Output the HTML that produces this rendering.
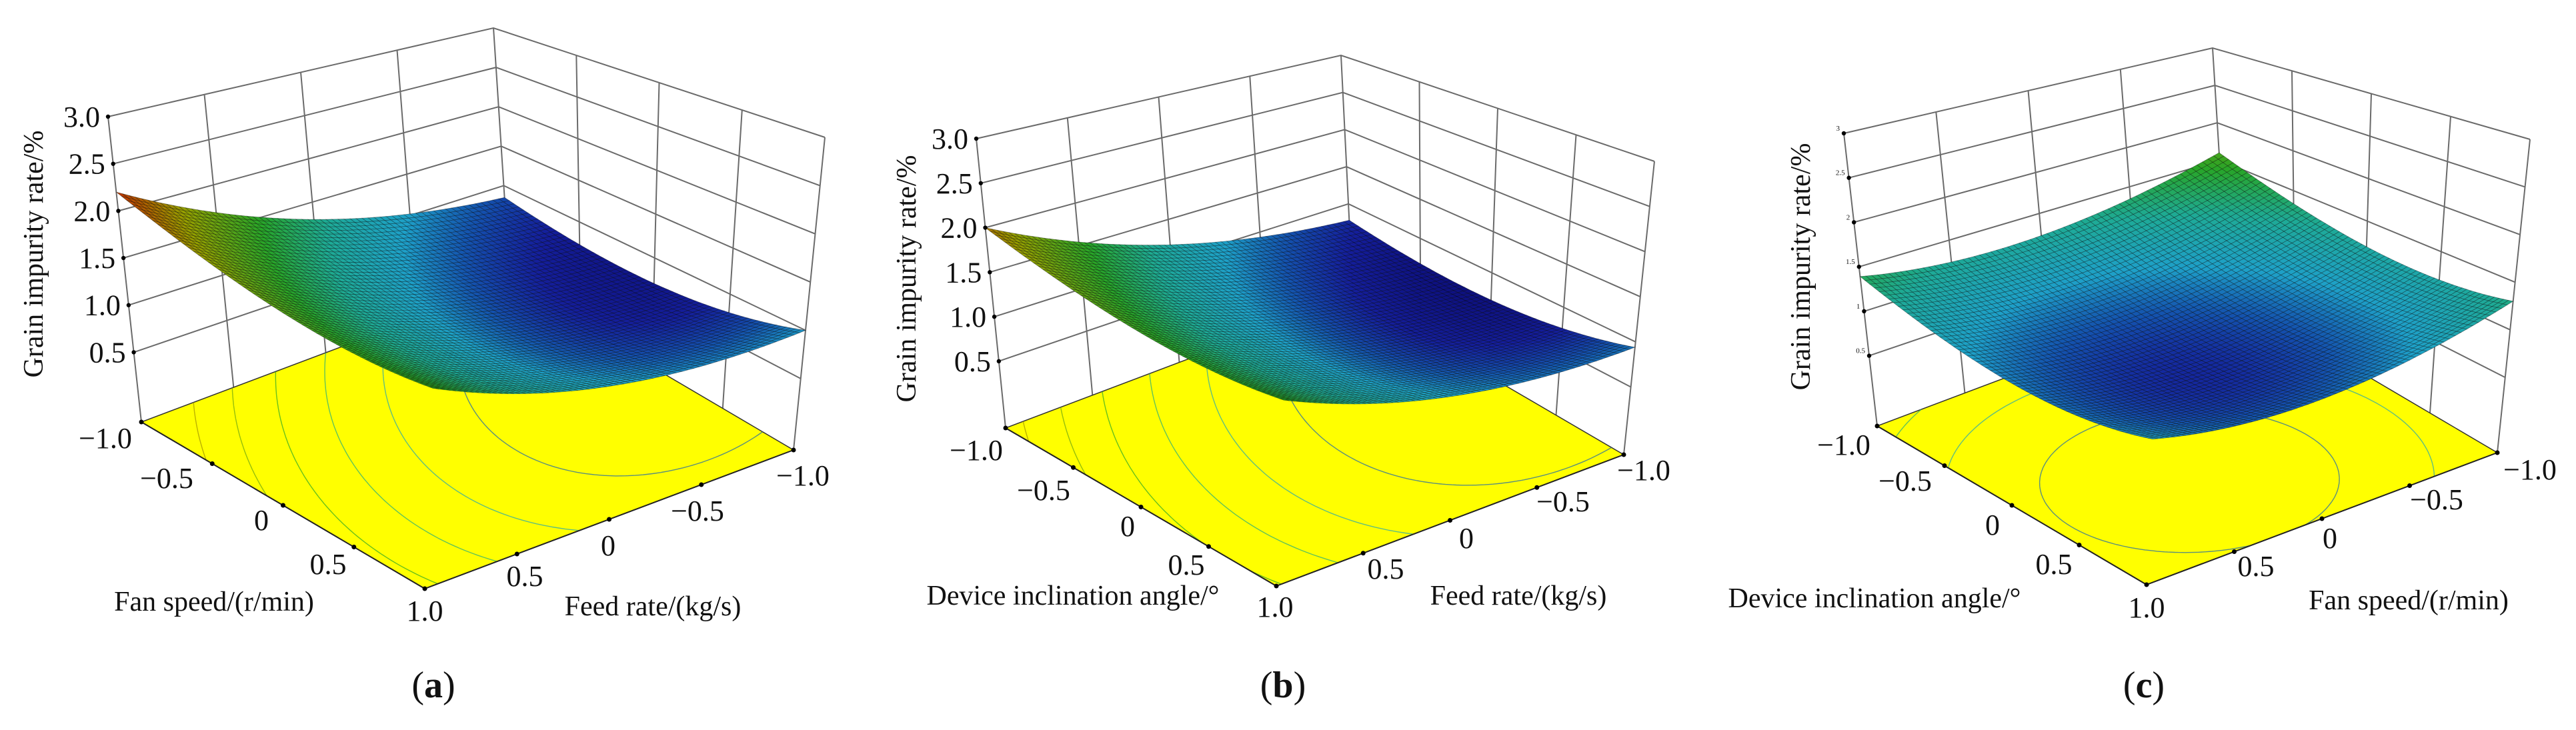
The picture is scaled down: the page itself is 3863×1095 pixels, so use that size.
<!DOCTYPE html>
<html><head><meta charset="utf-8">
<style>
html,body{margin:0;padding:0;background:#fff;}
svg{display:block;}
text{font-family:"Liberation Serif","DejaVu Serif",serif;fill:#111;}
</style></head>
<body>
<svg id="fig" width="3863" height="1095" viewBox="0 0 3863 1095" xmlns="http://www.w3.org/2000/svg">
<rect x="0" y="0" width="3863" height="1095" fill="#fff"/>
</svg>
<script>
// ---- data ----
const Z_TICKS = [0.5, 1.0, 1.5, 2.0, 2.5, 3.0];
const Z_TICK_LABELS = ["0.5", "1.0", "1.5", "2.0", "2.5", "3.0"];
const Z_TICK_LABELS_C = ["0.5", "1", "1.5", "2", "2.5", "3"];
const X_TICKS = [-1, -0.5, 0, 0.5, 1];
const X_TICK_LABELS = ["\u22121.0", "\u22120.5", "0", "0.5", "1.0"];
const Y_TICKS = [-1, -0.5, 0, 0.5];
const Y_TICK_LABELS = ["\u22121.0", "\u22120.5", "0", "0.5"];
// surface values on 3x3 design grid: rows = first factor (-1,0,1), cols = second factor (-1,0,1)
const SURF_A = [[0.85, 1.30, 2.20], [0.71, 0.95, 1.66], [1.00, 1.05, 1.55]];
const SURF_B = [[0.78, 1.19, 2.00], [0.67, 0.92, 1.57], [0.94, 1.03, 1.52]];
const SURF_C = [[1.60, 1.23, 1.39], [1.20, 0.82, 0.96], [1.30, 0.91, 1.04]];
const CONTOUR_LEVELS = [0.9, 1.1, 1.3, 1.5, 1.7, 1.9];

const NS = "http://www.w3.org/2000/svg";
const svg = document.getElementById("fig");

function mk(tag, attrs, parent) {
  const e = document.createElementNS(NS, tag);
  for (const k in attrs) e.setAttribute(k, attrs[k]);
  (parent || svg).appendChild(e);
  return e;
}
function lq(x) { return [x * (x - 1) / 2, 1 - x * x, x * (x + 1) / 2]; }
function surfVal(g, u, v) {
  const a = lq(u), b = lq(v);
  let s = 0;
  for (let i = 0; i < 3; i++) for (let j = 0; j < 3; j++) s += a[i] * b[j] * g[i][j];
  return s;
}
const CM = [[0.62, [10, 10, 115]], [0.76, [20, 30, 155]], [0.88, [20, 85, 175]], [1.02, [30, 160, 200]],
            [1.25, [30, 170, 150]], [1.5, [40, 165, 40]], [1.85, [150, 160, 0]], [2.25, [195, 35, 0]]];
function cmap(z) {
  if (z <= CM[0][0]) return CM[0][1];
  for (let i = 1; i < CM.length; i++) {
    if (z <= CM[i][0]) {
      const t = (z - CM[i - 1][0]) / (CM[i][0] - CM[i - 1][0]);
      const a = CM[i - 1][1], b = CM[i][1];
      return [0, 1, 2].map(k => Math.round(a[k] + (b[k] - a[k]) * t));
    }
  }
  return CM[CM.length - 1][1];
}
function rgb(c) { return "rgb(" + c[0] + "," + c[1] + "," + c[2] + ")"; }

function makeProj(c) {
  const L = c.L, F = c.F, R = c.R, TL = c.TL, TB = c.TB, TR = c.TR;
  const B = [L[0] + R[0] - F[0], L[1] + R[1] - F[1]];
  const TF = [TL[0] + TR[0] - TB[0], TL[1] + TR[1] - TB[1]];
  function bil(P00, P01, P10, P11, s, r) {
    return [0, 1].map(k => P00[k] * (1 - s) * (1 - r) + P01[k] * (1 - s) * r + P10[k] * s * (1 - r) + P11[k] * s * r);
  }
  return function (u, v, z) {
    const s = (u + 1) / 2, r = (v + 1) / 2, t = (z - c.zf) / (3 - c.zf);
    const f = bil(B, L, R, F, s, r), tp = bil(TB, TL, TR, TF, s, r);
    return [f[0] * (1 - t) + tp[0] * t, f[1] * (1 - t) + tp[1] * t];
  };
}
function pt(p) { return p[0].toFixed(1) + "," + p[1].toFixed(1); }

function drawPanel(c) {
  const P = makeProj(c);
  const g = mk("g", {});
  
  
  const zf = c.zf;
  const wall = mk("g", { stroke: "#6a6a6a", "stroke-width": 2, fill: "none" }, g);
  
  
  let d = "";
  for (const v of X_TICKS) { d += "M" + pt(P(-1, v, zf)) + "L" + pt(P(-1, v, 3)); }
  for (const u of X_TICKS) { d += "M" + pt(P(u, -1, zf)) + "L" + pt(P(u, -1, 3)); }
  for (const z of Z_TICKS) { d += "M" + pt(P(-1, 1, z)) + "L" + pt(P(-1, -1, z)) + "L" + pt(P(1, -1, z)); }
  mk("path", { d: d }, wall);
  const floor = mk("polygon", { points: [P(-1, -1, zf), P(-1, 1, zf), P(1, 1, zf), P(1, -1, zf)].map(pt).join(" "), fill: "#ffff00", stroke: "#333", "stroke-width": 1.5 }, g);
  
  
  const N = 60;
  const vals = [];
  for (let i = 0; i <= N; i++) { vals.push([]); for (let j = 0; j <= N; j++) vals[i].push(surfVal(c.grid, -1 + 2 * i / N, -1 + 2 * j / N)); }
  for (const lev of CONTOUR_LEVELS) {
    let cd = "";
    for (let i = 0; i < N; i++) for (let j = 0; j < N; j++) {
      const cs = [[i, j], [i + 1, j], [i + 1, j + 1], [i, j + 1]];
      const pts = [];
      for (let k = 0; k < 4; k++) {
        const a = cs[k], b = cs[(k + 1) % 4];
        const fa = vals[a[0]][a[1]] - lev, fb = vals[b[0]][b[1]] - lev;
        if ((fa < 0) !== (fb < 0)) {
          const t = fa / (fa - fb);
          const ii = a[0] + (b[0] - a[0]) * t, jj = a[1] + (b[1] - a[1]) * t;
          pts.push(P(-1 + 2 * ii / N, -1 + 2 * jj / N, zf));
        }
      }
      if (pts.length >= 2) cd += "M" + pt(pts[0]) + "L" + pt(pts[1]);
      if (pts.length === 4) cd += "M" + pt(pts[2]) + "L" + pt(pts[3]);
    }
    if (cd) {
      const cl = mk("path", { d: cd, stroke: rgb(cmap(lev)), "stroke-width": 1.4, fill: "none", opacity: 0.7 }, g);
      
      
    }
  }
  mk("path", { d: "M" + pt(P(-1, 1, zf)) + "L" + pt(P(1, 1, zf)) + "L" + pt(P(1, -1, zf)), stroke: "#222", "stroke-width": 2, fill: "none" }, g);
  const sg = mk("g", { stroke: "rgba(0,0,0,0.42)", "stroke-width": 0.7 }, g);
  
  
  const M = 64;
  for (let s = 0; s <= 2 * (M - 1); s++) {
    for (let i = 0; i < M; i++) {
      const j = s - i;
      if (j < 0 || j >= M) continue;
      const u0 = -1 + 2 * i / M, u1 = -1 + 2 * (i + 1) / M, v0 = -1 + 2 * j / M, v1 = -1 + 2 * (j + 1) / M;
      const z00 = surfVal(c.grid, u0, v0), z01 = surfVal(c.grid, u0, v1), z10 = surfVal(c.grid, u1, v0), z11 = surfVal(c.grid, u1, v1);
      const col = rgb(cmap((z00 + z01 + z10 + z11) / 4));
      const cell = mk("polygon", { points: [P(u0, v0, z00), P(u0, v1, z01), P(u1, v1, z11), P(u1, v0, z10)].map(pt).join(" "), fill: col }, sg);
      
      
    }
  }
  const labs = c.smallZ ? Z_TICK_LABELS_C : Z_TICK_LABELS;
  for (let k = 0; k < Z_TICKS.length; k++) {
    const p = P(-1, 1, Z_TICKS[k]);
    const dot = mk("circle", { cx: p[0], cy: p[1], r: 3.2, fill: "#000" }, g);
    
    
    const t = mk("text", { x: p[0] - (c.smallZ ? 6 : 12), y: p[1] + (c.smallZ ? -4 : 15), "text-anchor": "end", "font-size": c.smallZ ? 11 : 44 }, g);
    t.textContent = labs[k];
    
    
  }
  for (let k = 0; k < X_TICKS.length; k++) {
    const p = P(X_TICKS[k], 1, zf);
    const dot = mk("circle", { cx: p[0], cy: p[1], r: 3.5, fill: "#000" }, g);
    
    
    const t = mk("text", { x: c.xl[k][0], y: c.xl[k][1] + 15, "text-anchor": "middle", "font-size": 44 }, g);
    t.textContent = X_TICK_LABELS[k];
    
    
  }
  for (let k = 0; k < Y_TICKS.length; k++) {
    const p = P(1, Y_TICKS[k], zf);
    const dot = mk("circle", { cx: p[0], cy: p[1], r: 3.5, fill: "#000" }, g);
    
    
    const t = mk("text", { x: c.yl[k][0], y: c.yl[k][1] + 15, "text-anchor": "middle", "font-size": 44 }, g);
    t.textContent = Y_TICK_LABELS[k];
    
    
  }
  const t1 = mk("text", { x: c.xt[0], y: c.xt[1] + 14, "text-anchor": "middle", "font-size": 42 }, g);
  t1.textContent = c.xTitle;
  
  
  const t2 = mk("text", { x: c.yt[0], y: c.yt[1] + 14, "text-anchor": "middle", "font-size": 42 }, g);
  t2.textContent = c.yTitle;
  
  
  const t3 = mk("text", { x: 0, y: 0, "text-anchor": "middle", "font-size": 42, transform: "translate(" + (c.zt[0] + 14) + "," + c.zt[1] + ") rotate(-90)" }, g);
  t3.textContent = "Grain impurity rate/%";
  
  
  const cap = mk("text", { x: c.cap[0], y: c.cap[1] + 18, "text-anchor": "middle", "font-size": 56 }, g);
  cap.innerHTML = "(<tspan font-weight=\"bold\">" + c.letter + "</tspan>)";
  
  
}

drawPanel({ name: "panel-a", L: [212, 633], F: [637, 883], R: [1190, 675], TL: [162, 175], TB: [740, 42], TR: [1237, 206], zf: -0.24, grid: SURF_A,
  xl: [[158, 657], [250, 717], [392, 780], [492, 846], [637, 916]], yl: [[1204, 713], [1046, 766], [912, 818], [787, 864]],
  xt: [321, 902], yt: [979, 909], zt: [50, 381], cap: [650, 1028], letter: "a", xTitle: "Fan speed/(r/min)", yTitle: "Feed rate/(kg/s)" });
drawPanel({ name: "panel-b", L: [1508, 642], F: [1914, 879], R: [2435, 682], TL: [1464, 208], TB: [2011, 83], TR: [2481, 242], zf: -0.25, grid: SURF_B,
  xl: [[1464, 675], [1565, 735], [1691, 789], [1779, 847], [1912, 910]], yl: [[2465, 705], [2344, 752], [2199, 807], [2078, 853]],
  xt: [1609, 893], yt: [2277, 893], zt: [1359, 418], cap: [1924, 1028], letter: "b", xTitle: "Device inclination angle/\u00b0", yTitle: "Feed rate/(kg/s)" });
drawPanel({ name: "panel-c", L: [2815, 639], F: [3219, 877], R: [3745, 679], TL: [2765, 200], TB: [3318, 72], TR: [3794, 209], zf: -0.29, grid: SURF_C, smallZ: true,
  xl: [[2765, 667], [2857, 721], [2988, 787], [3080, 846], [3219, 911]], yl: [[3794, 704], [3654, 749], [3494, 807], [3383, 849]],
  xt: [2811, 897], yt: [3612, 900], zt: [2700, 400], cap: [3215, 1028], letter: "c", xTitle: "Device inclination angle/\u00b0", yTitle: "Fan speed/(r/min)" });
</script>
</body></html>
